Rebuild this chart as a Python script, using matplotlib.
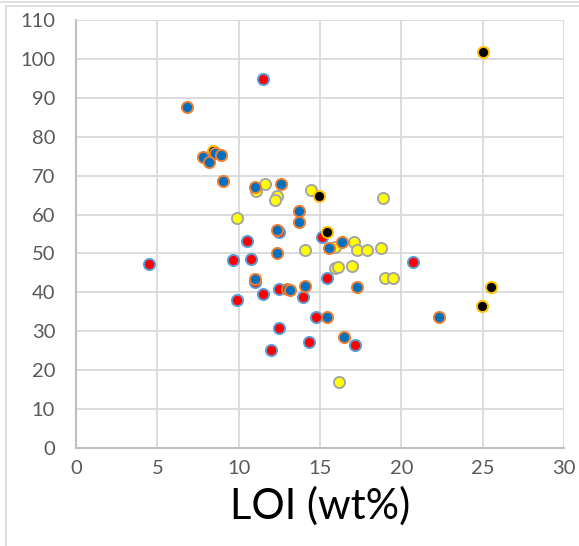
import matplotlib
matplotlib.use("Agg")
import matplotlib.pyplot as plt
from matplotlib.lines import Line2D

plt.rcParams['font.family'] = ['Lato', 'DejaVu Sans']

# LOI (wt%) vs. y-value, four sample groups
red_x = [4.49, 9.63, 9.88, 10.49, 10.74, 11.0, 11.47, 11.47, 11.97, 12.46,
         12.46, 12.5, 13.93, 14.32, 14.75, 15.1, 15.41, 17.15, 20.69]
red_y = [47.2, 48.2, 38.0, 53.3, 48.7, 42.7, 39.6, 94.9, 25.2, 40.9,
         30.8, 55.4, 38.9, 27.2, 33.7, 54.3, 43.6, 26.6, 47.7]

blue_x = [6.8, 7.79, 8.19, 8.54, 8.91, 9.01, 10.98, 10.98, 12.33, 12.33,
          12.6, 12.95, 13.15, 13.71, 13.71, 14.08, 15.41, 15.57, 16.38, 16.5,
          17.25, 22.29]
blue_y = [87.7, 74.9, 73.6, 75.9, 75.3, 68.7, 67.2, 43.5, 56.0, 50.2,
          67.8, 40.9, 40.5, 61.0, 58.0, 41.6, 33.7, 51.3, 53.0, 28.6,
          41.5, 33.7]

yellow_x = [9.88, 11.06, 11.62, 12.33, 12.21, 14.05, 14.42, 15.92, 15.92, 16.1,
            16.98, 17.11, 17.25, 17.87, 18.73, 18.85, 18.99, 19.5, 16.14]
yellow_y = [59.0, 66.0, 67.8, 64.8, 63.7, 50.8, 66.3, 51.6, 46.2, 46.5,
            46.7, 53.0, 50.9, 50.9, 51.3, 64.2, 43.6, 43.6, 16.9]

black_x = [8.45, 14.94, 15.41, 24.98, 25.49, 25.0]
black_y = [76.4, 64.7, 55.5, 36.4, 41.5, 101.7]

x_ticks = [0, 5, 10, 15, 20, 25, 30]
y_ticks = [0, 10, 20, 30, 40, 50, 60, 70, 80, 90, 100, 110]
x_label = "LOI (wt%)"

W, H = 579, 546
fig = plt.figure(figsize=(W / 100, H / 100), dpi=100)
ax = fig.add_axes([76 / W, 1 - 448 / H, (564 - 76) / W, (448 - 20) / H])

ms = 64
lw = 1.4
ax.scatter(red_x, red_y, s=ms, c='#FF0000', edgecolors='#5B9BD5', linewidths=lw, zorder=3)
ax.scatter(yellow_x, yellow_y, s=ms, c='#FFFF00', edgecolors='#A5A5A5', linewidths=lw, zorder=4)
ax.scatter(black_x, black_y, s=ms, c='#000000', edgecolors='#FFC000', linewidths=lw, zorder=5)
ax.scatter(blue_x, blue_y, s=ms, c='#0070C0', edgecolors='#ED7D31', linewidths=lw, zorder=6)

ax.set_xlim(0, 30)
ax.set_ylim(0, 110)
ax.set_xticks(x_ticks)
ax.set_yticks(y_ticks)
ax.grid(True, color='#D9D9D9', linewidth=1.3, zorder=0)
ax.set_axisbelow(True)

for side in ['top', 'right']:
    ax.spines[side].set_visible(False)
for side in ['left', 'bottom']:
    ax.spines[side].set_color('#BFBFBF')
    ax.spines[side].set_linewidth(1.5)

ax.tick_params(axis='both', length=0, labelsize=14.5, labelcolor='#595959')
ax.tick_params(axis='y', pad=15)
ax.tick_params(axis='x', pad=9)

ax.set_xlabel(x_label, fontsize=30, color='#000000', labelpad=6)

# chart-area frame
frame_c = '#D9D9D9'
fig.add_artist(Line2D([0, 1], [1 - 1.5 / H, 1 - 1.5 / H], color=frame_c, lw=1.2, transform=fig.transFigure))
fig.add_artist(Line2D([6 / W, 1], [1 - 6 / H, 1 - 6 / H], color=frame_c, lw=1.2, transform=fig.transFigure))
fig.add_artist(Line2D([6 / W, 6 / W], [0, 1 - 6 / H], color=frame_c, lw=1.2, transform=fig.transFigure))

fig.savefig("out.png", dpi=100)
